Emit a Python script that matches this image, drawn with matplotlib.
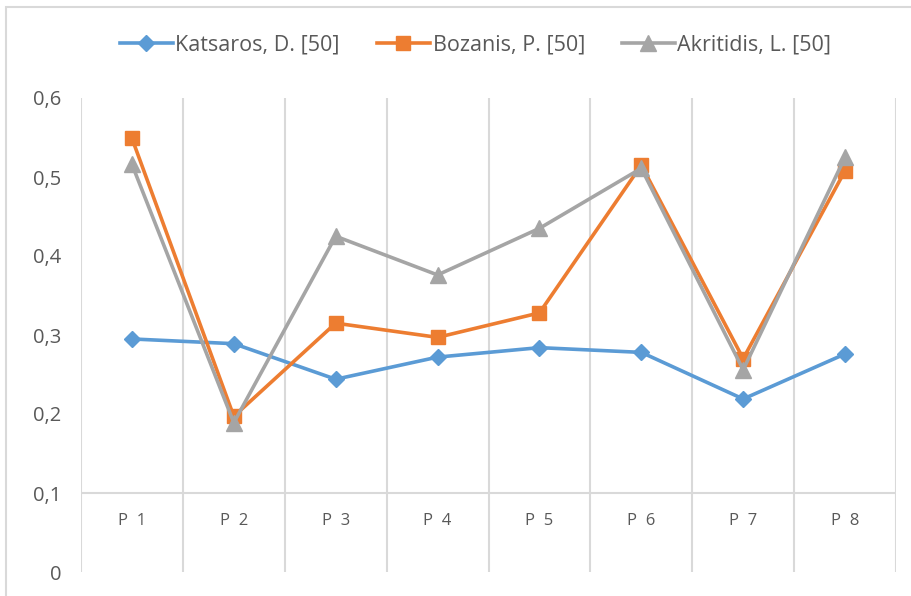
import numpy as np
import matplotlib.pyplot as plt
from matplotlib.patches import Rectangle
from matplotlib.ticker import FuncFormatter

categories = ["P  1", "P  2", "P  3", "P  4", "P  5", "P  6", "P  7", "P  8"]
katsaros = [0.295, 0.289, 0.244, 0.272, 0.284, 0.278, 0.219, 0.276]
bozanis = [0.549, 0.197, 0.315, 0.297, 0.328, 0.515, 0.270, 0.508]
akritidis = [0.516, 0.189, 0.425, 0.376, 0.435, 0.511, 0.256, 0.525]
y_ticks = [0, 0.1, 0.2, 0.3, 0.4, 0.5, 0.6]

W, H = 911, 596
fig = plt.figure(figsize=(W / 100, H / 100), dpi=100)
plt.rcParams['font.family'] = ['Open Sans', 'DejaVu Sans']
txt = "#595959"
grid = "#d9d9d9"

# outer chart border (cropped at right and bottom)
fig.patches.append(Rectangle((6 / W, -0.1), 1.2, 1 - 7 / H + 0.1,
                             transform=fig.transFigure, fill=False,
                             edgecolor=grid, lw=1.5))

ax = fig.add_axes([81 / W, 24 / H, (896 - 81) / W, (572 - 98) / H])
x = np.arange(len(categories))

# vertical gridlines at category boundaries, horizontal axis line at 0.1
for b in np.arange(-0.5, len(categories), 1.0):
    ax.axvline(b, color=grid, lw=1.5, zorder=0)
ax.axhline(0.1, color=grid, lw=1.5, zorder=0)

ax.plot(x, katsaros, color="#5B9BD5", lw=2.6, marker="D", ms=8,
        label="Katsaros, D. [50]", zorder=3)
ax.plot(x, bozanis, color="#ED7D31", lw=2.6, marker="s", ms=10,
        label="Bozanis, P. [50]", zorder=4)
ax.plot(x, akritidis, color="#A5A5A5", lw=2.6, marker="^", ms=11,
        label="Akritidis, L. [50]", zorder=5)

for i, c in enumerate(categories):
    ax.text(i, 0.065, c, ha="center", va="center", fontsize=12, color=txt)

ax.set_xlim(-0.5, len(categories) - 0.5)
ax.set_ylim(0, 0.6)
ax.set_xticks([])
ax.set_yticks(y_ticks)
ax.yaxis.set_major_formatter(FuncFormatter(lambda v, p: ("%g" % v).replace(".", ",")))
ax.tick_params(axis="y", length=0, pad=14, labelsize=14.5, labelcolor=txt)
for s in ax.spines.values():
    s.set_visible(False)

fig.legend(loc="center", bbox_to_anchor=(0.5 + 20 / W, 1 - 45 / H), ncol=3,
           frameon=False, fontsize=15.5, labelcolor=txt, handlelength=2.5,
           handletextpad=0.1, columnspacing=1.7)

fig.savefig("out.png", dpi=100)
